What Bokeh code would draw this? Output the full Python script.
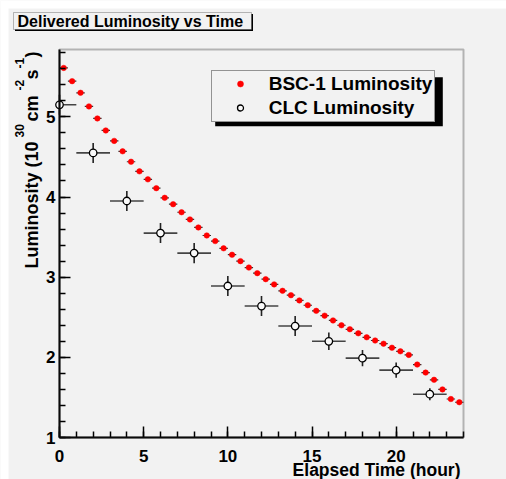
import math
from bokeh.plotting import figure
from bokeh.models import (Range1d, SingleIntervalTicker, Label, BoxAnnotation, Legend,
                          LegendItem, LinearAxis)
from bokeh.embed import file_html
from bokeh.resources import INLINE

# ---------------- data ----------------
bsc_time = [0.25, 0.75, 1.25, 1.75, 2.25, 2.75, 3.25, 3.75, 4.25, 4.75, 5.25, 5.75,
            6.25, 6.75, 7.25, 7.75, 8.25, 8.75, 9.25, 9.75, 10.25, 10.75, 11.25, 11.75,
            12.25, 12.75, 13.25, 13.75, 14.25, 14.75, 15.25, 15.75, 16.25, 16.75, 17.25, 17.75,
            18.25, 18.75, 19.25, 19.75, 20.25, 20.75, 21.25, 21.75, 22.25, 22.75, 23.25, 23.75]
bsc_lumi = [5.61, 5.445, 5.30, 5.13, 4.98, 4.83, 4.70, 4.57, 4.44, 4.32, 4.22, 4.11,
            3.99, 3.91, 3.81, 3.72, 3.62, 3.52, 3.45, 3.36, 3.28, 3.20, 3.12, 3.05,
            2.975, 2.91, 2.83, 2.775, 2.71, 2.65, 2.58, 2.52, 2.46, 2.40, 2.35, 2.30,
            2.25, 2.21, 2.17, 2.12, 2.075, 2.03, 1.91, 1.81, 1.72, 1.60, 1.48, 1.44]
bsc_half_bin = 0.25

clc_time = [0, 2, 4, 6, 8, 10, 12, 14, 16, 18, 20, 22]
clc_lumi = [5.15, 4.55, 3.95, 3.55, 3.30, 2.89, 2.64, 2.39, 2.20, 1.99, 1.84, 1.54]
clc_yerr = [0.125, 0.125, 0.125, 0.125, 0.125, 0.125, 0.125, 0.125, 0.11, 0.10, 0.095, 0.075]
clc_half_bin = 1.0

x_lo, x_hi = 0.0, 24.0
y_lo, y_hi = 1.0, 5.84
x_ticks_interval = 5
y_ticks_interval = 1

title_text = "Delivered Luminosity vs Time"
x_label = "Elapsed Time (hour)"
bsc_name = "BSC-1 Luminosity"
clc_name = "CLC Luminosity"

# ---------------- layout (page pixels) ----------------
BG = "#f2f2f2"
FONT = "Liberation Sans"
CW, CH = 506, 479           # canvas covers the window
MARGIN = 8                  # white page margin (left / top) as in the reference
FL, FR, FT, FB = 59, 463, 49, 437   # frame edges on the page
BASE_FIX = 5.5              # correction of Bokeh's alphabetic anchoring


def sx(px):
    return px


def sy(py):
    return CH - py


kx = (FR - FL) / (x_hi - x_lo)
ky = (FB - FT) / (y_hi - y_lo)
xr = Range1d(x_lo - FL / kx, x_hi + (CW - FR) / kx)
yr = Range1d(y_lo - (CH - FB) / ky, y_hi + FT / ky)

p = figure(width=CW, height=CH, x_range=xr, y_range=yr,
           x_axis_type=None, y_axis_type=None,
           output_backend="svg", toolbar_location=None,
           min_border=0, background_fill_color=BG, border_fill_color=BG)
p.grid.visible = False
p.outline_line_color = None


def screen_box(l, r, t, b, **kw):
    return BoxAnnotation(left=sx(l), right=sx(r), top=sy(t), bottom=sy(b),
                         left_units="screen", right_units="screen", top_units="screen",
                         bottom_units="screen", level="underlay", **kw)


# white page margin
p.add_layout(screen_box(0, MARGIN, 0, CH, fill_color="white", fill_alpha=1, line_alpha=0))
p.add_layout(screen_box(0, CW, 0, MARGIN, fill_color="white", fill_alpha=1, line_alpha=0))

xaxis = LinearAxis(fixed_location=y_lo, bounds=(x_lo, x_hi),
                   ticker=SingleIntervalTicker(interval=x_ticks_interval, num_minor_ticks=5))
yaxis = LinearAxis(fixed_location=x_lo, bounds=(y_lo, y_hi),
                   ticker=SingleIntervalTicker(interval=y_ticks_interval, num_minor_ticks=5))
for ax in (xaxis, yaxis):
    ax.axis_line_width = 2
    ax.axis_line_color = "black"
    ax.major_tick_in = 11
    ax.major_tick_out = 0
    ax.minor_tick_in = 6
    ax.minor_tick_out = 0
    ax.major_tick_line_width = 1.5
    ax.minor_tick_line_width = 1.5
    ax.major_tick_line_color = "black"
    ax.minor_tick_line_color = "black"
    ax.major_label_text_font = FONT
    ax.major_label_text_font_style = "bold"
    ax.major_label_text_font_size = "17px"
    ax.major_label_text_color = "black"
xaxis.major_label_standoff = 12
yaxis.major_label_standoff = 4
p.add_layout(xaxis, "below")
p.add_layout(yaxis, "left")

# frame box (top and right edges)
p.add_layout(BoxAnnotation(left=x_lo, right=x_hi, bottom=y_lo, top=y_hi,
                           fill_alpha=0, line_color="#222222", line_width=2))

# ---------------- data marks ----------------
bsc_x0 = [t - bsc_half_bin for t in bsc_time]
bsc_x1 = [t + bsc_half_bin for t in bsc_time]
p.segment(bsc_x0, bsc_lumi, bsc_x1, bsc_lumi, line_color="#333333", line_width=1.2)
bsc_r = p.scatter(bsc_time, bsc_lumi, size=5.5, marker="circle", fill_color="#ff0000",
                  line_color="#ff0000", line_width=0.5)

clc_x0 = [max(x_lo, t - clc_half_bin) for t in clc_time]
clc_x1 = [t + clc_half_bin for t in clc_time]
clc_y0 = [v - e for v, e in zip(clc_lumi, clc_yerr)]
clc_y1 = [v + e for v, e in zip(clc_lumi, clc_yerr)]
p.segment(clc_x0, clc_lumi, clc_x1, clc_lumi, line_color="#444444", line_width=1.6)
p.segment(clc_time, clc_y0, clc_time, clc_y1, line_color="#222222", line_width=1.6)
clc_r = p.scatter(clc_time, clc_lumi, size=7.5, marker="circle", fill_color="#fafafa",
                  line_color="black", line_width=1.3)

# ---------------- title box ----------------
p.add_layout(screen_box(14.5, 252.5, 13.5, 30.5, fill_color="black", fill_alpha=1, line_alpha=0))
p.add_layout(screen_box(13, 251, 12, 29, fill_color=BG, fill_alpha=1,
                        line_color="#222222", line_width=1))
p.add_layout(Label(x=sx(17), y=sy(20.5), x_units="screen", y_units="screen", text=title_text,
                   text_font=FONT, text_font_style="bold", text_font_size="16px",
                   text_baseline="middle", text_align="left", text_color="black"))

# ---------------- legend ----------------
p.add_layout(screen_box(214.7, 442.3, 76.7, 125.7, fill_color="black", fill_alpha=1,
                        line_alpha=0))
legend = Legend(items=[LegendItem(label=bsc_name, renderers=[bsc_r]),
                       LegendItem(label=clc_name, renderers=[clc_r])],
                location=(sx(210.7), sy(121.7)),
                background_fill_color=BG, background_fill_alpha=1,
                border_line_color="#333333", border_line_width=1,
                label_text_font=FONT, label_text_font_style="bold",
                label_text_font_size="19px", label_text_color="black",
                glyph_width=52, glyph_height=15, label_height=22, label_standoff=3,
                spacing=2, padding=2, margin=0)
p.add_layout(legend)

# ---------------- axis titles ----------------
p.add_layout(Label(x=sx(460), y=sy(475.0 - BASE_FIX), x_units="screen", y_units="screen",
                   text=x_label, text_font=FONT, text_font_style="bold",
                   text_font_size="17.5px", text_baseline="alphabetic", text_align="right",
                   text_color="black"))

# y title pieces: (text, font px, baseline x on page, start y on page)
pieces = [("Luminosity (10", 18, 37, 268), ("30", 12, 24, 137), (" cm", 18, 37, 121),
          ("-2", 12, 24, 90), ("s", 18, 37, 79), ("-1", 12, 24, 68), (")", 18, 37, 57)]
for txt, fs, bx, y0 in pieces:
    p.add_layout(Label(x=sx(bx - BASE_FIX), y=sy(y0), x_units="screen", y_units="screen",
                       text=txt, angle=math.pi / 2, text_font=FONT, text_font_style="bold",
                       text_font_size=f"{fs}px", text_baseline="alphabetic",
                       text_align="left", text_color="black"))

open("out.html", "w").write(file_html(p, INLINE))
